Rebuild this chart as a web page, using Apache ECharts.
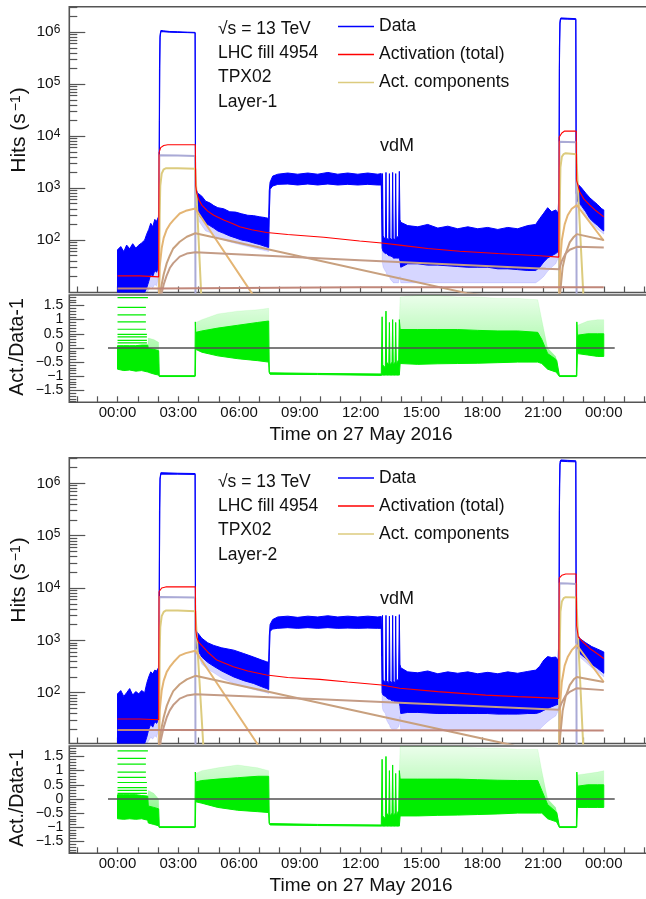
<!DOCTYPE html>
<html><head><meta charset="utf-8">
<script src="https://cdn.jsdelivr.net/npm/echarts@6/dist/echarts.min.js"></script>
<style>html,body{margin:0;padding:0;background:#fff;}#c{width:646px;height:899px;}</style>
</head><body><div id="c"></div>
<script>
// ---------------- tick positions / labels ----------------
const hourLabelTicks = [0, 3, 6, 9, 12, 15, 18, 21, 24];
const hourTicks = [-2,-1,0,1,2,3,4,5,6,7,8,9,10,11,12,13,14,15,16,17,18,19,20,21,22,23,24,25,26];
const logMajorTicks = [100, 1000, 10000, 100000, 1000000];
const logMinorTicks = [20,30,40,50,60,70,80,90,200,300,400,500,600,700,800,900,
  2000,3000,4000,5000,6000,7000,8000,9000,20000,30000,40000,50000,60000,70000,80000,90000,
  200000,300000,400000,500000,600000,700000,800000,900000,2000000,3000000];
const ratioMajorTicks = [-1.5, -1, -0.5, 0, 0.5, 1, 1.5];
const ratioMinorTicks = [-1.9,-1.8,-1.7,-1.6,-1.4,-1.3,-1.2,-1.1,-0.9,-0.8,-0.7,-0.6,-0.4,-0.3,-0.2,-0.1,
  0.1,0.2,0.3,0.4,0.6,0.7,0.8,0.9,1.1,1.2,1.3,1.4,1.6,1.7,1.8];

// ---------------- Layer-1 : data band rows [hour, lo, hi, sparseLo] ----------------
const data1 = [
[0.00,9.8,65,9.8],[0.16,9.8,75,9.8],[0.31,9.8,60,9.8],[0.45,9.8,80,9.8],[0.60,9.8,68,9.8],[0.75,9.8,85,9.8],
[0.90,9.8,70,9.8],[1.05,9.8,80,9.8],[1.19,9.8,88,9.8],[1.34,9.8,100,9.8],[1.44,12,130,9.8],[1.54,16,160,11],
[1.64,22,210,13],[1.74,20,180,12],[1.84,26,250,14],[1.93,24,230,13],[2.02,30,280,20],[2.05,60,900,60],
[2.07,2e4,2e5,2e4],[2.10,8e5,9e5,8e5],[2.14,1.02e6,1.08e6,1.02e6],[2.28,1.02e6,1.06e6,1.02e6],[2.58,1.0e6,1.03e6,1.0e6],
[2.97,0.99e6,1.02e6,0.99e6],[3.47,0.98e6,1.0e6,0.98e6],[3.83,0.97e6,0.99e6,0.97e6],[3.85,600,1000,600],
[3.88,450,950,400],[3.96,330,800,250],[4.16,260,700,190],[4.35,210,560,150],[4.55,190,520,140],[4.75,170,460,125],
[4.95,150,420,110],[5.24,135,400,100],[5.54,120,350,92],[5.83,110,345,86],[6.13,100,320,80],[6.43,95,300,75],
[6.72,88,295,70],[7.02,82,280,66],[7.31,75,270,62],[7.46,72,260,60],[7.49,300,900,300],[7.53,950,1300,950],
[7.66,1100,1700,1100],[7.91,1180,1850,1180],[8.40,1200,1950,1200],[8.89,1150,1850,1150],[9.39,1200,1950,1200],
[9.88,1150,1850,1150],[10.38,1200,2000,1200],[10.87,1150,1850,1150],[11.36,1180,1950,1180],[11.86,1150,1850,1150],
[12.35,1180,1950,1180],[12.84,1150,1850,1150],[13.02,1150,1900,1150],
[13.06,70,400,40],[13.08,65,1900,35],[13.11,60,120,30],[13.22,55,100,25],[13.25,55,2000,25],[13.28,55,110,22],
[13.39,50,100,20],[13.42,50,1900,20],[13.45,50,110,18],[13.55,48,100,16],[13.58,48,2000,16],[13.61,45,110,15],
[13.70,45,100,15],[13.73,45,1900,15],[13.76,45,110,15],[13.87,45,120,15],[13.91,45,2100,18],[13.94,40,250,20],
[13.98,30,220,15],[14.32,35,190,15],[14.82,35,180,15],[15.31,33,200,15],[15.81,33,170,15],[16.30,32,185,15],
[16.79,31,165,15],[17.29,30,180,15],[17.78,30,165,15],[18.27,30,175,15],[18.77,28,160,15],[19.26,28,175,15],
[19.75,27,165,15],[20.25,26,190,15],[20.64,26,200,15],[20.84,30,260,17],[21.04,38,330,20],[21.23,45,420,25],
[21.43,50,350,30],[21.63,55,380,35],[21.75,60,330,45],[21.79,100,1000,100],[21.81,2e5,5e5,2e5],
[21.84,1.5e6,1.7e6,1.5e6],[21.88,1.8e6,1.88e6,1.8e6],[22.22,1.78e6,1.85e6,1.78e6],[22.62,1.76e6,1.82e6,1.76e6],
[22.64,800,1500,800],[22.72,550,1200,500],[22.91,450,1000,400],[23.11,350,800,300],[23.31,260,650,220],
[23.50,220,560,190],[23.70,190,480,160],[23.90,160,400,140],[24.00,150,380,130]
];
const red1 = [[0,20.5],[1.10,20.5],[1.12,19.6],[2.03,19.6],[2.05,4800],[2.13,6000],[2.28,6600],[2.48,6800],[3.84,6800],
[3.86,1100],[3.91,800],[4.01,600],[4.16,470],[4.45,360],[4.75,300],[5.24,243],[5.64,210],[6.03,180],[6.62,158],
[7.36,140],[8.40,128],[10.18,113],[11.95,96],[13.04,88],[13.09,84],[13.93,80],[13.98,75],[15.31,69],[16.89,61],
[18.77,55],[20.84,50],[21.78,47],[21.80,9500],[21.93,11500],[22.07,12500],[22.64,12500],[22.66,1400],[22.72,1150],
[22.81,850],[23.01,620],[23.31,470],[23.60,370],[24.00,280]];
const compA1 = [[2.04,5],[2.06,4300],[2.97,4250],[3.83,4150],[3.85,5],[21.79,5],[21.81,7800],[22.22,7700],[22.64,7600],[22.66,5]];
const compB1 = [[2.05,8],[2.08,300],[2.11,1100],[2.18,1900],[2.28,2300],[2.38,2400],[2.97,2400],[3.84,2350],[4.13,9],
[21.80,8],[21.83,500],[21.86,2500],[21.93,4000],[22.02,4500],[22.12,4700],[22.64,4500],[22.99,9]];
const compC1 = [[2.03,5],[2.08,30],[2.18,70],[2.28,110],[2.43,160],[2.58,200],[2.77,245],[3.07,325],[3.37,365],[3.84,405],[6.67,9],
[21.80,5],[21.85,40],[21.93,100],[22.07,200],[22.22,300],[22.42,400],[22.67,470],[24.00,97]];
const compD1 = [[2.03,5],[2.08,8],[2.18,14],[2.28,22],[2.43,36],[2.58,50],[2.75,69],[3.07,93],[3.42,116],[3.84,135],[17.24,9.5],
[21.80,6],[21.85,10],[21.97,30],[22.12,55],[22.32,90],[22.52,115],[22.67,130],[24.00,100]];
const compE1 = [[2.08,5],[2.13,8],[2.28,14],[2.43,21],[2.58,29],[2.75,36],[3.07,48],[3.42,55],[3.84,58],[11.95,41],[21.14,28],
[21.80,27.5],[21.93,40],[22.12,55],[22.32,65],[22.67,74],[24.00,72]];
const compF1 = [[0,11.7],[2.03,11.7],[2.10,12.5],[11.86,12.4],[24.00,12.3]];
// ratio rows [hour, lo, hi, sparseHi]
const ratio1 = [
[0.00,-0.75,0.08,0.08],[0.31,-0.80,0.08,0.08],[0.60,-0.78,0.08,0.08],[0.90,-0.82,0.08,0.08],[1.19,-0.80,0.10,0.10],[1.49,-0.85,0.10,0.10],
[1.52,-0.86,-0.02,0.35],[1.79,-0.92,-0.05,0.30],[2.03,-0.96,-0.10,0.20],
[2.06,-1.01,-0.98,-0.98],[3.82,-1.01,-0.98,-0.98],[3.84,-1.00,0.92,0.92],
[3.86,-0.05,0.55,0.90],[4.16,-0.15,0.60,1.00],[4.95,-0.28,0.70,1.20],[5.93,-0.38,0.80,1.30],[6.92,-0.45,0.90,1.35],[7.46,-0.50,0.95,1.40],
[7.49,-0.88,-0.85,-0.85],[7.53,-0.93,-0.88,-0.88],[9.88,-0.94,-0.90,-0.90],[13.02,-0.97,-0.92,-0.92],
[13.06,-0.96,1.10,1.10],[13.09,-0.96,-0.60,-0.60],[13.22,-0.96,-0.70,-0.70],[13.25,-0.96,1.30,1.30],[13.28,-0.96,-0.50,-0.50],
[13.39,-0.96,-0.60,-0.60],[13.42,-0.96,0.90,0.90],[13.45,-0.96,-0.60,-0.60],[13.55,-0.96,-0.50,-0.50],[13.58,-0.96,1.00,1.00],
[13.61,-0.96,-0.60,-0.60],[13.70,-0.96,-0.50,-0.50],[13.73,-0.96,0.90,0.90],[13.76,-0.96,-0.60,-0.60],[13.88,-0.96,-0.40,-0.40],
[13.91,-0.96,1.00,1.00],
[13.95,-0.55,0.65,1.80],[14.82,-0.58,0.65,1.85],[15.81,-0.56,0.65,1.85],[16.79,-0.55,0.65,1.80],[17.78,-0.54,0.62,1.80],
[18.77,-0.52,0.60,1.75],[19.75,-0.50,0.60,1.75],[20.74,-0.50,0.55,1.70],[20.94,-0.55,0.30,1.00],[21.23,-0.75,-0.20,0.00],
[21.63,-0.85,-0.40,-0.30],[21.68,-0.88,-0.45,-0.45],
[21.81,-1.01,-0.98,-0.98],[22.65,-1.01,-0.98,-0.98],[22.67,-1.00,0.92,0.92],
[22.70,-0.20,0.45,0.80],[23.21,-0.25,0.50,0.95],[23.70,-0.30,0.50,1.00],[24.00,-0.30,0.50,1.00]
];
// quantised ratio levels at low rate [startHour, level, endHour]
const stripes1 = [[0,1.78,1.50],[0,1.43,1.40],[0,1.17,1.40],[0,0.92,1.40],[0,0.66,1.40],[0,0.48,1.45],[0,0.39,1.45],[0,0.27,1.45],[0,0.18,1.45]];

// ---------------- Layer-2 ----------------
const data2 = [
[0.00,10.7,95,10.7],[0.16,10.7,110,10.7],[0.31,10.7,85,10.7],[0.45,10.7,100,10.7],[0.60,10.7,120,10.7],[0.75,10.7,90,10.7],
[0.90,10.7,105,10.7],[1.05,10.7,95,10.7],[1.19,10.7,110,10.7],[1.34,10.7,100,10.7],[1.44,14,150,10.7],[1.54,20,200,12],
[1.64,25,250,14],[1.74,22,230,13],[1.84,28,270,15],[1.93,26,260,14],[2.02,30,300,20],[2.05,60,1200,60],
[2.07,3e4,3e5,3e4],[2.10,1.2e6,1.3e6,1.2e6],[2.14,1.5e6,1.6e6,1.5e6],[2.97,1.5e6,1.56e6,1.5e6],[3.83,1.48e6,1.54e6,1.48e6],
[3.85,900,1600,900],[3.91,700,1470,600],[4.16,480,1100,350],[4.45,380,900,280],[4.75,320,800,240],[5.14,260,720,190],
[5.74,200,650,150],[6.23,170,560,130],[6.72,150,480,115],[7.12,130,420,105],[7.36,120,390,100],[7.46,115,380,95],
[7.49,500,1200,500],[7.53,1500,2000,1500],[7.66,1650,2500,1650],[7.91,1700,2800,1700],[8.40,1750,2900,1750],
[8.89,1700,2750,1700],[9.39,1750,2900,1750],[9.88,1700,2800,1700],[10.38,1750,2950,1750],[10.87,1700,2800,1700],
[11.36,1720,2900,1720],[11.86,1700,2800,1700],[12.35,1720,2900,1720],[12.84,1700,2800,1700],[13.02,1700,2850,1700],
[13.06,100,500,60],[13.08,95,3000,50],[13.11,90,180,45],[13.22,85,150,40],[13.25,85,3000,35],[13.28,80,170,30],
[13.39,75,150,25],[13.42,75,2900,25],[13.45,75,170,22],[13.55,70,150,20],[13.58,70,3000,20],[13.61,70,170,20],
[13.70,68,150,20],[13.73,68,2900,20],[13.76,68,170,20],[13.87,65,180,22],[13.91,65,3100,25],[13.94,55,350,35],
[13.98,40,300,19],[14.32,42,250,19],[14.82,42,240,19],[15.31,41,260,19],[15.81,40,230,19],[16.30,40,250,19],
[16.79,40,235,19],[17.29,40,250,19],[17.78,40,230,19],[18.27,40,245,19],[18.77,39,230,19],[19.26,39,250,19],
[19.75,39,235,19],[20.25,40,255,19],[20.64,40,270,19],[20.84,42,320,20],[21.04,46,420,24],[21.23,50,490,28],
[21.43,54,470,32],[21.63,58,480,36],[21.75,60,420,45],[21.79,100,1500,100],[21.81,3e5,8e5,3e5],
[21.84,2.3e6,2.6e6,2.3e6],[21.88,2.65e6,2.8e6,2.65e6],[22.22,2.6e6,2.75e6,2.6e6],[22.62,2.58e6,2.7e6,2.58e6],
[22.64,900,1500,900],[22.81,565,1090,480],[23.11,450,900,380],[23.41,350,760,300],[23.70,290,680,250],[24.00,235,600,200]
];
const red2 = [[0,31.5],[1.10,31.5],[1.12,30.5],[2.03,30.5],[2.05,8500],[2.18,10000],[2.38,10500],[3.84,10500],[3.86,1600],
[3.91,1170],[3.99,940],[4.45,600],[4.90,420],[5.72,314],[6.43,260],[7.36,218],[8.40,195],[9.98,180],[11.36,160],
[13.04,140],[13.93,122],[15.81,105],[18.17,90],[19.75,84],[21.78,78],[21.80,15500],[21.93,17500],[22.12,18500],
[22.64,18500],[22.66,1900],[22.74,1170],[23.01,900],[23.31,700],[23.70,550],[24.00,450]];
const compA2 = [[2.04,5],[2.06,6700],[2.97,6650],[3.83,6600],[3.85,5],[21.79,5],[21.81,12300],[22.22,12200],[22.64,12000],[22.66,5]];
const compB2 = [[2.05,8],[2.08,600],[2.11,1800],[2.18,2900],[2.28,3500],[2.38,3700],[2.97,3700],[3.84,3600],[4.24,9],
[21.80,8],[21.83,800],[21.86,3500],[21.93,5500],[22.02,6400],[22.12,6700],[22.64,6600],[22.99,9]];
const compC2 = [[2.03,5],[2.08,45],[2.18,110],[2.28,170],[2.43,250],[2.58,310],[2.77,385],[3.07,510],[3.37,570],[3.84,635],[7.02,9],
[21.80,5],[21.85,65],[21.93,160],[22.07,330],[22.22,480],[22.42,650],[22.67,815],[24.00,160]];
const compD2 = [[2.03,5],[2.08,12],[2.18,22],[2.28,34],[2.43,56],[2.58,78],[2.75,107],[3.07,145],[3.42,180],[3.84,210],[19.46,10],
[21.80,5],[21.85,15],[21.97,45],[22.12,85],[22.32,140],[22.52,180],[22.67,200],[24.00,160]];
const compE2 = [[2.08,6],[2.13,12],[2.28,22],[2.43,34],[2.58,46],[2.75,58],[3.07,77],[3.42,88],[3.84,93],[9.98,75],[21.78,47],
[21.93,65],[22.12,88],[22.32,104],[22.67,122],[24.00,112]];
const compF2 = [[0,19.4],[2.03,19.4],[2.10,19.2],[24.00,19]];
const ratio2 = [
[0.00,-0.70,0.15,0.15],[0.31,-0.72,0.15,0.15],[0.60,-0.70,0.15,0.15],[0.90,-0.72,0.15,0.15],[1.19,-0.70,0.12,0.12],[1.49,-0.75,0.10,0.10],
[1.52,-0.85,-0.25,0.30],[1.79,-0.90,-0.30,0.20],[2.03,-0.95,-0.35,0.00],
[2.06,-1.01,-0.98,-0.98],[3.82,-1.01,-0.98,-0.98],[3.84,-1.00,0.95,0.95],
[3.86,-0.10,0.60,0.90],[4.16,-0.15,0.65,1.00],[4.95,-0.30,0.70,1.10],[5.93,-0.40,0.75,1.20],[6.92,-0.45,0.80,1.10],[7.46,-0.48,0.80,1.00],
[7.49,-0.88,-0.85,-0.85],[7.53,-0.92,-0.87,-0.87],[9.88,-0.94,-0.90,-0.90],[13.02,-0.96,-0.92,-0.92],
[13.06,-0.96,1.40,1.40],[13.09,-0.96,-0.60,-0.60],[13.22,-0.96,-0.70,-0.70],[13.25,-0.96,1.50,1.50],[13.28,-0.96,-0.50,-0.50],
[13.39,-0.96,-0.60,-0.60],[13.42,-0.96,1.00,1.00],[13.45,-0.96,-0.60,-0.60],[13.55,-0.96,-0.50,-0.50],[13.58,-0.96,1.20,1.20],
[13.61,-0.96,-0.60,-0.60],[13.70,-0.96,-0.50,-0.50],[13.73,-0.96,0.90,0.90],[13.76,-0.96,-0.60,-0.60],[13.88,-0.96,-0.40,-0.40],
[13.91,-0.96,1.00,1.00],
[13.95,-0.60,0.70,1.85],[14.82,-0.60,0.70,1.85],[15.81,-0.58,0.70,1.85],[16.79,-0.57,0.70,1.85],[17.78,-0.55,0.68,1.80],
[18.77,-0.53,0.66,1.80],[19.75,-0.50,0.65,1.75],[20.74,-0.50,0.65,1.75],[20.94,-0.50,0.30,1.00],[21.23,-0.70,-0.20,0.00],
[21.63,-0.80,-0.45,-0.30],[21.68,-0.82,-0.48,-0.48],
[21.81,-1.01,-0.98,-0.98],[22.65,-1.01,-0.98,-0.98],[22.67,-1.00,0.95,0.95],
[22.70,-0.30,0.45,0.85],[23.21,-0.30,0.50,0.90],[23.70,-0.30,0.50,0.95],[24.00,-0.30,0.50,1.00]
];
const stripes2 = [[0,1.70,1.50],[0,1.43,1.40],[0,1.23,1.40],[0,0.95,1.40],[0,0.76,1.40],[0,0.58,1.45],[0,0.40,1.45],[0,0.30,1.45],[0,0.20,1.45]];

const zeroLine = [[-0.47, 0], [24.54, 0]];
const infoText1 = ['\u221As = 13 TeV', 'LHC fill 4954', 'TPX02', 'Layer-1'];
const infoText2 = ['\u221As = 13 TeV', 'LHC fill 4954', 'TPX02', 'Layer-2'];
const legendNames = ['Data', 'Activation (total)', 'Act. components'];

// ---------------- styling / layout ----------------
const FONT = "'Liberation Sans', Arial, Helvetica, sans-serif";
const COL = { blue:'#0000ff', red:'#ff0000', A:'#aaaad6', B:'#dccb7e', C:'#e4b574', D:'#c8a07e', E:'#c49c86', F:'#c0877a',
  green:'#00ee00', frame:'#555555', text:'#111111', zero:'#505050' };
const X_MIN = -2.38, X_MAX = 26.43;
const GL = 69.3, GR = -7;
const RMIN = -1.92, RMAX = 1.87;

const panels = [
  { mainTop: 6.7, ratioTop: 295, ymin: 9.8, ymax: 3.09e6, data: data1, red: red1,
    comps: [compA1, compB1, compC1, compD1, compE1, compF1], ratio: ratio1, stripes: stripes1,
    info: infoText1, infoY: [29, 53, 77.5, 101.7], legendTop: 16.5, hitsY: 130, actY: 347, vdmY: 146 },
  { mainTop: 457.7, ratioTop: 746, ymin: 10.7, ymax: 3.09e6, data: data2, red: red2,
    comps: [compA2, compB2, compC2, compD2, compE2, compF2], ratio: ratio2, stripes: stripes2,
    info: infoText2, infoY: [481.7, 506.2, 530.5, 555], legendTop: 468, hitsY: 580, actY: 798, vdmY: 599 }
];
const MAIN_H = 285.8, RATIO_H = 107.3;

function hourFmt(v) { const h = ((Math.round(v) % 24) + 24) % 24; return (h < 10 ? '0' : '') + h + ':00'; }
function powFmt(v) {
  const l = Math.log10(v), e = Math.round(l);
  if (Math.abs(l - e) > 1e-6) return '';
  return '{b|10}{s|' + e + '}';
}
function ratioFmt(v) { return v < 0 ? '\u2212' + Math.abs(v) : String(v); }

function bandSeries(name, xi, yi, rows, a, b, style, z) {
  return {
    name: name, type: 'custom', xAxisIndex: xi, yAxisIndex: yi, clip: true, silent: true, z: z,
    itemStyle: { color: style.fill },
    data: [[rows[0][0], rows[0][b]]],
    renderItem: function (params, api) {
      const pts = [];
      for (let i = 0; i < rows.length; i++) pts.push(api.coord([rows[i][0], rows[i][b]]));
      for (let i = rows.length - 1; i >= 0; i--) pts.push(api.coord([rows[i][0], rows[i][a]]));
      return { type: 'polygon', shape: { points: pts }, style: style };
    }
  };
}
function lineSeries(name, xi, yi, data, color, width, z) {
  return { name: name, type: 'line', xAxisIndex: xi, yAxisIndex: yi, data: data, symbol: 'none', showSymbol: false,
    silent: true, z: z, clip: true, itemStyle: { color: color }, lineStyle: { color: color, width: width } };
}

const grid = [], xAxis = [], yAxis = [], series = [], graphic = [], legend = [];
const tickStyle = { color: COL.frame, width: 1.2 };

panels.forEach(function (P, p) {
  const gMain = 2 * p, gRat = 2 * p + 1;
  grid.push({ left: GL, right: GR, top: P.mainTop, height: MAIN_H, show: true, borderColor: COL.frame, borderWidth: 1.6,
    backgroundColor: 'transparent', containLabel: false, outerBoundsMode: 'none' });
  grid.push({ left: GL, right: GR, top: P.ratioTop, height: RATIO_H, show: true, borderColor: COL.frame, borderWidth: 1.6,
    backgroundColor: 'transparent', containLabel: false, outerBoundsMode: 'none' });

  xAxis.push({ type: 'value', gridIndex: gMain, min: X_MIN, max: X_MAX, position: 'bottom',
    axisLine: { show: false, onZero: false }, splitLine: { show: false },
    axisTick: { show: true, inside: true, length: 6, customValues: hourTicks, lineStyle: tickStyle },
    axisLabel: { show: false } });
  xAxis.push({ type: 'value', gridIndex: gRat, min: X_MIN, max: X_MAX, position: 'bottom',
    axisLine: { show: false, onZero: false }, splitLine: { show: false },
    axisTick: { show: true, inside: true, length: 6, customValues: hourTicks, lineStyle: tickStyle },
    axisLabel: { show: true, customValues: hourLabelTicks, formatter: hourFmt, margin: 3, hideOverlap: false,
      fontSize: 15, fontFamily: FONT, color: COL.text },
    name: 'Time on 27 May 2016', nameLocation: 'middle', nameGap: 23,
    nameTextStyle: { fontSize: 19, fontFamily: FONT, color: COL.text } });

  const yMainIdx = yAxis.length;
  yAxis.push({ type: 'log', logBase: 10, gridIndex: gMain, min: P.ymin, max: P.ymax, position: 'left',
    axisLine: { show: false, onZero: false }, splitLine: { show: false },
    axisTick: { show: true, inside: true, length: 16, customValues: logMajorTicks, lineStyle: tickStyle },
    axisLabel: { show: true, customValues: logMajorTicks, formatter: powFmt, margin: 9, hideOverlap: false,
      rich: { b: { fontSize: 15.5, fontFamily: FONT, color: COL.text },
              s: { fontSize: 12, fontFamily: FONT, color: COL.text, verticalAlign: 'top' } } } });
  yAxis.push({ type: 'log', logBase: 10, gridIndex: gMain, min: P.ymin, max: P.ymax, position: 'left',
    axisLine: { show: false, onZero: false }, splitLine: { show: false }, axisLabel: { show: false },
    axisTick: { show: true, inside: true, length: 8, customValues: logMinorTicks, lineStyle: tickStyle } });
  const yRatIdx = yAxis.length;
  yAxis.push({ type: 'value', gridIndex: gRat, min: RMIN, max: RMAX, position: 'left',
    axisLine: { show: false, onZero: false }, splitLine: { show: false },
    axisTick: { show: true, inside: true, length: 15, customValues: ratioMajorTicks, lineStyle: tickStyle },
    axisLabel: { show: true, customValues: ratioMajorTicks, formatter: ratioFmt, margin: 6, hideOverlap: false,
      fontSize: 14, lineHeight: 13, fontFamily: FONT, color: COL.text } });
  yAxis.push({ type: 'value', gridIndex: gRat, min: RMIN, max: RMAX, position: 'left',
    axisLine: { show: false, onZero: false }, splitLine: { show: false }, axisLabel: { show: false },
    axisTick: { show: true, inside: true, length: 7, customValues: ratioMinorTicks, lineStyle: tickStyle } });

  series.push(bandSeries('Data sparse', gMain, yMainIdx, P.data, 3, 1,
    { fill: 'rgba(0,0,255,0.16)', stroke: 'rgba(0,0,255,0.2)', lineWidth: 0.5 }, 2));
  series.push(bandSeries('Data', gMain, yMainIdx, P.data, 1, 2,
    { fill: COL.blue, stroke: COL.blue, lineWidth: 1 }, 2));
  const compNames = ['compA', 'Act. components', 'compC', 'compD', 'compE', 'compF'];
  const compCols = [COL.A, COL.B, COL.C, COL.D, COL.E, COL.F];
  P.comps.forEach(function (c, k) {
    series.push(lineSeries(compNames[k], gMain, yMainIdx, c, compCols[k], 2, 3));
  });
  series.push(lineSeries('Activation (total)', gMain, yMainIdx, P.red, COL.red, 1.1, 4));

  series.push(bandSeries('ratio sparse', gRat, yRatIdx, P.ratio, 2, 3,
    { fill: new echarts.graphic.LinearGradient(0, 0, 0, 1, [
        { offset: 0, color: 'rgba(0,238,0,0.08)' }, { offset: 0.6, color: 'rgba(0,238,0,0.3)' }, { offset: 1, color: 'rgba(0,238,0,0.6)' }]),
      stroke: 'rgba(0,238,0,0.15)', lineWidth: 0.5 }, 2));
  series.push(bandSeries('ratio', gRat, yRatIdx, P.ratio, 1, 2,
    { fill: COL.green, stroke: COL.green, lineWidth: 1 }, 2));
  series.push({ name: 'ratio levels', type: 'custom', xAxisIndex: gRat, yAxisIndex: yRatIdx, clip: true, silent: true, z: 3,
    data: P.stripes,
    renderItem: function (params, api) {
      const p1 = api.coord([api.value(0), api.value(1)]);
      const p2 = api.coord([api.value(2), api.value(1)]);
      return { type: 'line', shape: { x1: p1[0], y1: p1[1], x2: p2[0], y2: p2[1] },
        style: { stroke: COL.green, lineWidth: 1.2 } };
    } });
  series.push(lineSeries('zero', gRat, yRatIdx, zeroLine, COL.zero, 1.6, 5));

  legend.push({ show: true, orient: 'vertical', left: 338, top: P.legendTop, padding: 0, itemGap: 8, itemWidth: 36, itemHeight: 1.6,
    icon: 'rect', selectedMode: false,
    textStyle: { fontSize: 17.5, fontFamily: FONT, color: COL.text, lineHeight: 20 },
    data: [{ name: legendNames[0], itemStyle: { color: COL.blue } },
           { name: legendNames[1], itemStyle: { color: COL.red } },
           { name: legendNames[2], itemStyle: { color: COL.B } }] });

  P.info.forEach(function (t, k) {
    graphic.push({ type: 'text', x: 218, y: P.infoY[k], silent: true,
      style: { text: t, fontSize: 17.5, fontFamily: FONT, fill: COL.text, verticalAlign: 'middle', align: 'left' } });
  });
  graphic.push({ type: 'text', x: 380, y: P.vdmY, silent: true,
    style: { text: 'vdM', fontSize: 18, fontFamily: FONT, fill: COL.text, verticalAlign: 'middle', align: 'left' } });
  graphic.push({ type: 'text', x: 19.5, y: P.hitsY, rotation: Math.PI / 2, silent: true,
    style: { text: 'Hits (s{s|\u22121})', fontSize: 21, fontFamily: FONT, fill: COL.text, align: 'center', verticalAlign: 'middle',
      rich: { s: { fontSize: 14, fontFamily: FONT, fill: COL.text, verticalAlign: 'top', padding: [0, 1, 0, 2] } } } });
  graphic.push({ type: 'text', x: 17.5, y: P.actY, rotation: Math.PI / 2, silent: true,
    style: { text: 'Act./Data-1', fontSize: 19.5, fontFamily: FONT, fill: COL.text, align: 'center', verticalAlign: 'middle' } });
});

const chart = echarts.init(document.getElementById('c'), null, { renderer: 'canvas' });
chart.setOption({
  animation: false, backgroundColor: '#ffffff',
  grid: grid, xAxis: xAxis, yAxis: yAxis, series: series, legend: legend, graphic: graphic
});
</script></body></html>
